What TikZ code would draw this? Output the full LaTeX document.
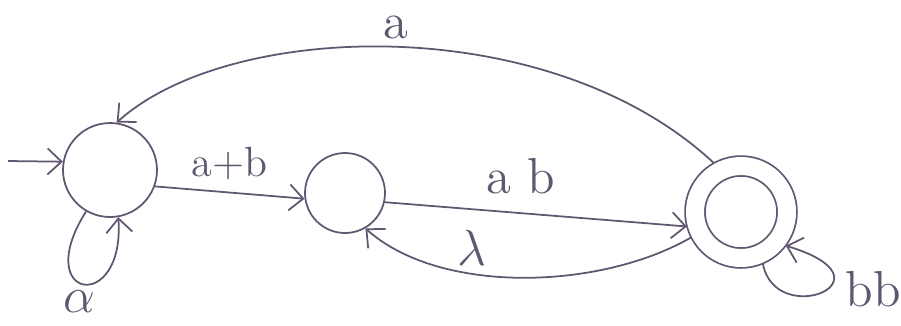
\documentclass[tikz,border=0pt]{standalone}
\usepackage{amsmath,amssymb}
\usetikzlibrary{arrows.meta}
\definecolor{ink}{RGB}{96,86,112}

\begin{document}
\begin{tikzpicture}[
  every node/.style={font=\Large, text=ink},
  state/.style={circle, draw=ink, line width=0.5pt, inner sep=0pt},
  trans/.style={draw=ink, line width=0.5pt, -{Straight Barb[length=1.4mm, width=2.6mm]}}
]
\useasboundingbox (0,0) rectangle (9.01,3.25);
\node[state, minimum size=0.94cm] (q0) at (1.10,1.55) {};
\node[state, minimum size=0.80cm] (q1) at (3.45,1.32) {};
\node[state, minimum size=0.92cm, double, double distance=0.18cm, outer sep=0.1cm] (q2) at (7.41,1.13) {};
\coordinate (start) at (0.08,1.64);
\draw[trans] (start) -- (q0.170);
\draw[trans] (q0.-20) -- (q1.188) node[midway, above, font=\large] {a+b};
\draw[trans] (q1.-13) -- (q2.195) node[pos=0.45, above=2pt] {a b};
\draw[trans] (q2.207) .. controls (6.0,0.35) and (4.4,0.30) .. (q1.-60) node[pos=0.64, above, inner sep=2pt] {$\lambda$};
\draw[trans] (q2.119) .. controls (5.5,3.15) and (2.3,3.05) .. (q0.82) node[midway, above, inner sep=2pt] {a};
\draw[trans] (q0.240) .. controls (0.3,0.25) and (1.25,0.1) .. (q0.280) node[pos=0.45, below, inner sep=2pt] {$\alpha$};
\draw[trans] (q2.-67) .. controls (7.75,-0.05) and (9.0,0.45) .. (q2.-37);
\node (bb) at (8.73,0.36) {bb};
\end{tikzpicture}
\end{document}
